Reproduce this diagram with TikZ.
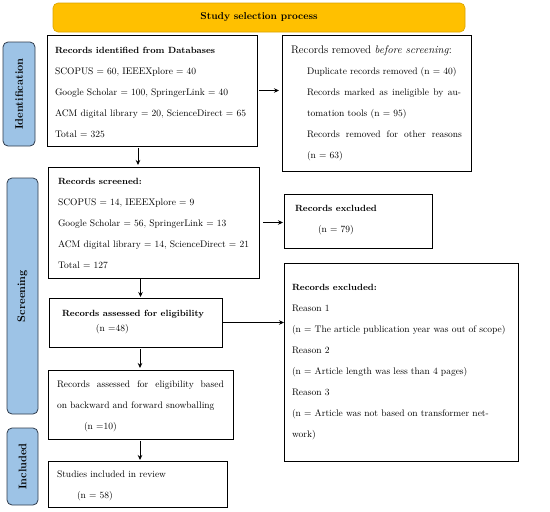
\documentclass[tikz,border=0pt]{standalone}
\usetikzlibrary{arrows.meta}
\definecolor{gold}{HTML}{FFC000}
\definecolor{goldedge}{HTML}{D9A300}
\definecolor{sidefill}{HTML}{9DC3E6}
\definecolor{sideedge}{HTML}{2F3B4C}
\newcommand\mystrut{\rule{0pt}{8pt}}
\tikzset{
  box/.style={draw=black, line width=0.8pt, anchor=north west, inner sep=0pt, outer sep=0pt},
  side/.style={draw=sideedge, fill=sidefill, line width=0.8pt, rounded corners=5pt, rotate=90,
    inner sep=0pt, outer sep=0pt, font=\fontsize{11}{13}\selectfont\bfseries},
  titlebar/.style={fill=gold, draw=goldedge, line width=0.6pt, rounded corners=5pt,
    inner sep=0pt, outer sep=0pt, font=\fontsize{10}{12}\selectfont\bfseries},
  txt/.style={anchor=north west, inner sep=0pt, outer sep=0pt, align=left,
    font=\fontsize{9.5}{21}\selectfont},
  arr/.style={line width=0.8pt, -{Stealth[length=5pt,width=4.5pt]}},
}
\newcommand\hd[1]{{\fontsize{9}{21}\selectfont\bfseries #1}}
\begin{document}
\begin{tikzpicture}[x=1pt,y=-1pt]
\useasboundingbox (0,0) rectangle (550,512);
% title
\node[titlebar, minimum width=412pt, minimum height=29pt] (title) at (259,17.5) {Study selection process};
% side labels
\node[side, minimum width=104pt, minimum height=32pt] (sid) at (19,94) {Identification};
\node[side, minimum width=236pt, minimum height=31pt] (sscr) at (22.5,296) {Screening};
\node[side, minimum width=77pt, minimum height=31pt] (sinc) at (22.5,466.5) {Included};
% boxes
\node[box, minimum width=210pt, minimum height=111pt] (b1) at (47,35) {};
\node[box, minimum width=189pt, minimum height=136pt] (b2) at (282,35) {};
\node[box, minimum width=211pt, minimum height=111pt] (b3) at (48,167) {};
\node[box, minimum width=173pt, minimum height=49pt] (b4) at (49,298) {};
\node[box, minimum width=185pt, minimum height=69pt] (b5) at (48,370) {};
\node[box, minimum width=179pt, minimum height=46pt] (b6) at (48,461) {};
\node[box, minimum width=148pt, minimum height=54pt] (b7) at (284,194) {};
\node[box, minimum width=234pt, minimum height=198pt] (b8) at (284,263) {};
% texts
\node[txt] (t1) at (55,45) {\mystrut\hd{Records identified from Databases}\\
SCOPUS = 60, IEEEXplore = 40\\
Google Scholar = 100, SpringerLink = 40\\
ACM digital library = 20, ScienceDirect = 65\\
Total = 325};
\node[txt] (t2) at (291,45) {\mystrut{\fontsize{11}{21}\selectfont Records removed \textit{before screening}:}\\
\hspace*{16pt}Duplicate records removed (n = 40)\\
\hspace*{16pt}\makebox[154pt][s]{Records marked as ineligible by au-}\\
\hspace*{16pt}tomation tools (n = 95)\\
\hspace*{16pt}\makebox[155pt][s]{Records removed for other reasons}\\
\hspace*{16pt}(n = 63)};
\node[txt] (t3) at (58,176) {\mystrut\hd{Records screened:}\\
SCOPUS = 14, IEEEXplore = 9\\
Google Scholar = 56, SpringerLink = 13\\
ACM digital library = 14, ScienceDirect = 21\\
Total = 127};
\node[txt] (t7) at (295,203) {\mystrut\hd{Records excluded}\\
\hspace*{23pt}(n = 79)};
\node[txt, font=\fontsize{9.5}{15}\selectfont] (t4) at (62,308) {\mystrut{\fontsize{9}{15}\selectfont\bfseries Records assessed for eligibility}\\
\hspace*{34pt}(n =48)};
\node[txt] (t8) at (292,282) {\mystrut\hd{Records excluded:}\\
Reason 1\\
(n = The article publication year was out of scope)\\
Reason 2\\
(n = Article length was less than 4 pages)\\
Reason 3\\
(n = Article was not based on transformer net-\\
work)};
\node[txt] (t5) at (57,379) {\mystrut\makebox[167pt][s]{Records assessed for eligibility based}\\
on backward and forward snowballing\\
\hspace*{27pt}(n =10)};
\node[txt] (t6) at (57,469) {\mystrut Studies included in review\\
\hspace*{20pt}(n = 58)};
% arrows
\draw[arr, shorten <=2pt, shorten >=3pt] (b1.east) -- (b1.east -| b2.west);
\draw[arr, shorten <=2pt, shorten >=2pt] ([xshift=-14pt]b1.south) -- ([xshift=-14pt]b1.south |- b3.north);
\draw[arr, shorten <=4pt, shorten >=1pt] (b3.east) -- (b3.east -| b7.west);
\draw[arr, shorten <=1pt, shorten >=1pt] ([xshift=-13pt]b3.south) -- ([xshift=-13pt]b3.south |- b4.north);
\draw[arr] (b4.east) -- (b4.east -| b8.west);
\draw[arr, shorten <=2pt, shorten >=2pt] ([xshift=4.5pt]b4.south) -- ([xshift=4.5pt]b4.south |- b5.north);
\draw[arr, shorten <=2pt, shorten >=1pt] ([xshift=-0.5pt]b5.south) -- ([xshift=-0.5pt]b5.south |- b6.north);
\end{tikzpicture}
\end{document}
